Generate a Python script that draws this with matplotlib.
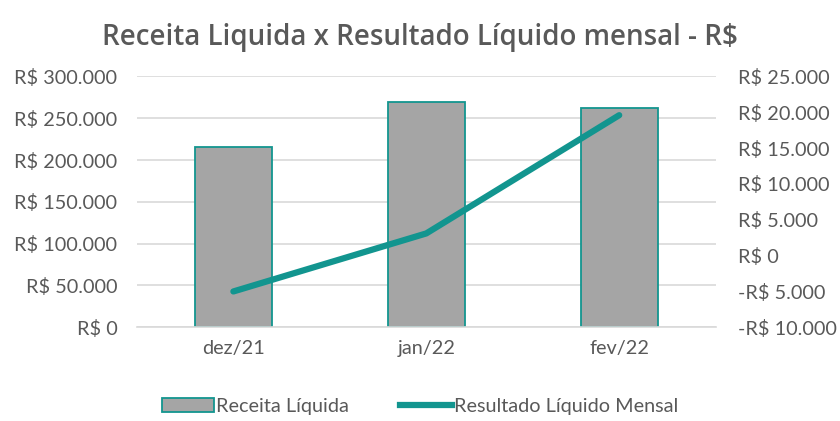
import matplotlib
matplotlib.use("Agg")
import matplotlib.pyplot as plt
from matplotlib.ticker import FuncFormatter
from matplotlib.patches import Patch
from matplotlib.lines import Line2D

categories = ["dez/21", "jan/22", "fev/22"]
receita = [216000, 269000, 262000]
resultado = [-5000, 3100, 19600]

left_ticks = [0, 50000, 100000, 150000, 200000, 250000, 300000]
right_ticks = [-10000, -5000, 0, 5000, 10000, 15000, 20000, 25000]

TEAL = "#12958f"
GRAY = "#a5a5a5"
TXT = "#595959"
FONT = ["Lato", "DejaVu Sans"]
plt.rcParams["font.family"] = FONT

def brl(v, pos=None):
    s = f"{abs(int(round(v))):,}".replace(",", ".")
    return ("-R$ " if v < 0 else "R$ ") + s

fig = plt.figure(figsize=(8.4, 4.21), dpi=100)
ax = fig.add_axes([0.163, 0.2226, 0.689, 0.5957])
x = list(range(len(categories)))
ax.bar(x, receita, width=0.4, color=GRAY, edgecolor=TEAL, linewidth=1.3, zorder=2)
ax.set_xlim(-0.5, 2.5)
ax.set_ylim(0, 300000)
ax.set_yticks(left_ticks)
ax.yaxis.set_major_formatter(FuncFormatter(brl))
ax.set_xticks(x)
ax.set_xticklabels(categories)
ax.grid(axis="y", color="#d9d9d9", linewidth=1.2, zorder=0)
ax.set_axisbelow(True)
for s in ["top", "right", "left"]:
    ax.spines[s].set_visible(False)
ax.spines["bottom"].set_color("#d9d9d9")
ax.spines["bottom"].set_linewidth(1.2)
ax.tick_params(axis="y", length=0, labelsize=14.3, colors=TXT, pad=14)
ax.tick_params(axis="x", length=0, labelsize=14.3, colors=TXT, pad=9)

ax2 = ax.twinx()
ax2.plot(x, resultado, color=TEAL, linewidth=4.5, solid_capstyle="round", zorder=3)
ax2.set_ylim(-10000, 25000)
ax2.set_yticks(right_ticks)
ax2.yaxis.set_major_formatter(FuncFormatter(brl))
for s in ["top", "right", "left", "bottom"]:
    ax2.spines[s].set_visible(False)
ax2.tick_params(axis="y", length=0, labelsize=14.3, colors=TXT, pad=16)

fig.suptitle("Receita Liquida x Resultado Líquido mensal - R$", x=0.5, y=0.945,
             fontsize=20, fontweight="semibold", color=TXT,
             fontfamily=["Open Sans", "DejaVu Sans"])

handles = [Patch(facecolor=GRAY, edgecolor=TEAL, linewidth=1.3, label="Receita Líquida"),
           Line2D([0], [0], color=TEAL, linewidth=4.5, label="Resultado Líquido Mensal")]
leg = fig.legend(handles=handles, loc="center", bbox_to_anchor=(0.5, 0.035), ncol=2,
                 frameon=False, fontsize=14.3, labelcolor=TXT, handlelength=2.6,
                 handletextpad=0.1, columnspacing=2.6)

fig.savefig("out.png", dpi=100)
